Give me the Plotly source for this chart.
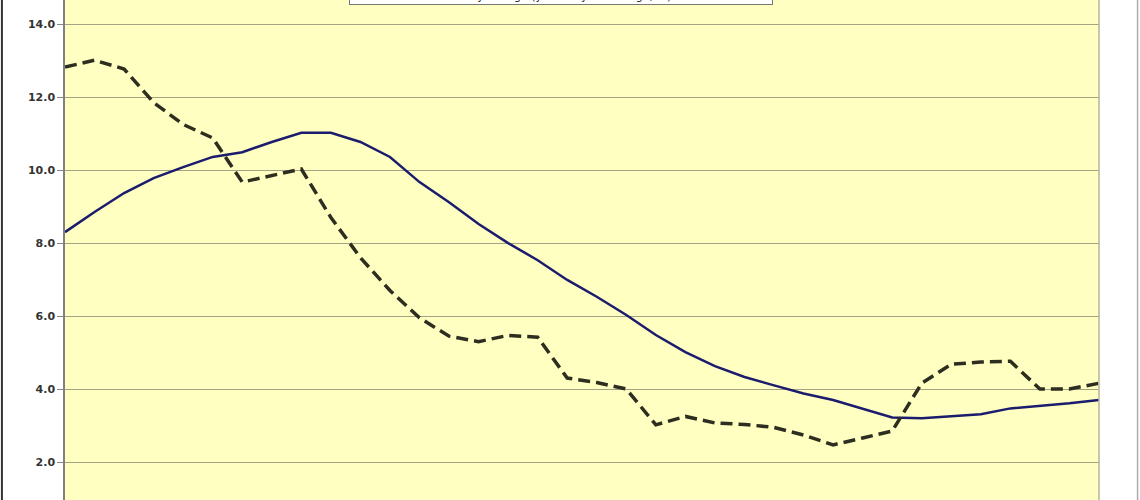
import plotly.graph_objects as go

years = list(range(1980, 2016))

trend_values = [8.30, 8.85, 9.37, 9.78, 10.08, 10.36, 10.49, 10.77, 11.02, 11.02,
                10.77, 10.36, 9.67, 9.12, 8.52, 8.00, 7.53, 6.99, 6.53, 6.03,
                5.48, 5.01, 4.63, 4.33, 4.10, 3.88, 3.70, 3.47, 3.22, 3.20,
                3.26, 3.31, 3.47, 3.53, 3.61, 3.70]

yearly_values = [12.82, 13.01, 12.77, 11.85, 11.25, 10.88, 9.67, 9.85, 10.03, 8.70,
                 7.60, 6.70, 5.95, 5.45, 5.30, 5.47, 5.42, 4.30, 4.18, 4.00,
                 3.02, 3.25, 3.07, 3.03, 2.95, 2.74, 2.47, 2.66, 2.85, 4.16,
                 4.68, 4.74, 4.76, 4.00, 4.00, 4.16]

y_ticks = [2.0, 4.0, 6.0, 8.0, 10.0, 12.0, 14.0]
legend_text = "Moving average of yearly change (10-year average)<br>Yearly change (year-on-year change, %)"

fig = go.Figure()
fig.add_trace(go.Scatter(x=years, y=trend_values, mode="lines",
                         line=dict(color="#1c1c6e", width=2.5),
                         name="trend", showlegend=False))
fig.add_trace(go.Scatter(x=years, y=yearly_values, mode="lines",
                         line=dict(color="#2e2e20", width=3.5, dash="12px,6px"),
                         name="yearly", showlegend=False))

fig.update_layout(
    width=1140, height=500,
    margin=dict(l=65, r=41, t=0, b=0, pad=0),
    paper_bgcolor="white",
    plot_bgcolor="#FFFFC2",
    showlegend=False,
    xaxis=dict(range=[years[0], years[-1]], showticklabels=False, showgrid=False,
               zeroline=False, showline=False, ticks=""),
    yaxis=dict(range=[0.96, 14.66], tickvals=y_ticks, tickformat=".1f",
               tickfont=dict(family="DejaVu Sans", size=11, color="#333333", weight="bold"),
               ticks="outside", ticklen=6, tickcolor="#888888",
               showgrid=True, gridcolor="#a4a484", gridwidth=1.2,
               zeroline=False, showline=True, linecolor="#808080", linewidth=1.5),
)

# right boundary of plot area
fig.add_shape(type="line", xref="paper", yref="paper", x0=1, x1=1, y0=0, y1=1,
              line=dict(color="#b4b49a", width=1.5))
# outer chart frame
fig.add_shape(type="line", xref="paper", yref="paper", x0=-0.0610, x1=-0.0610, y0=-0.1, y1=1.1,
              line=dict(color="#333333", width=2))
fig.add_shape(type="line", xref="paper", yref="paper", x0=1.0373, x1=1.0373, y0=-0.1, y1=1.1,
              line=dict(color="#aaaaaa", width=1.5))

# legend box (mostly above the visible frame)
fig.add_annotation(xref="paper", yref="paper", x=0.48, y=0.99, xanchor="center", yanchor="bottom",
                   text=legend_text, showarrow=False, width=420, align="center",
                   font=dict(family="DejaVu Sans", size=11, color="#222222"),
                   bgcolor="white", bordercolor="#777777", borderwidth=1, borderpad=1)

fig.write_html("out.html", config={"displayModeBar": False},
               post_script="document.body.style.margin='0px';")
